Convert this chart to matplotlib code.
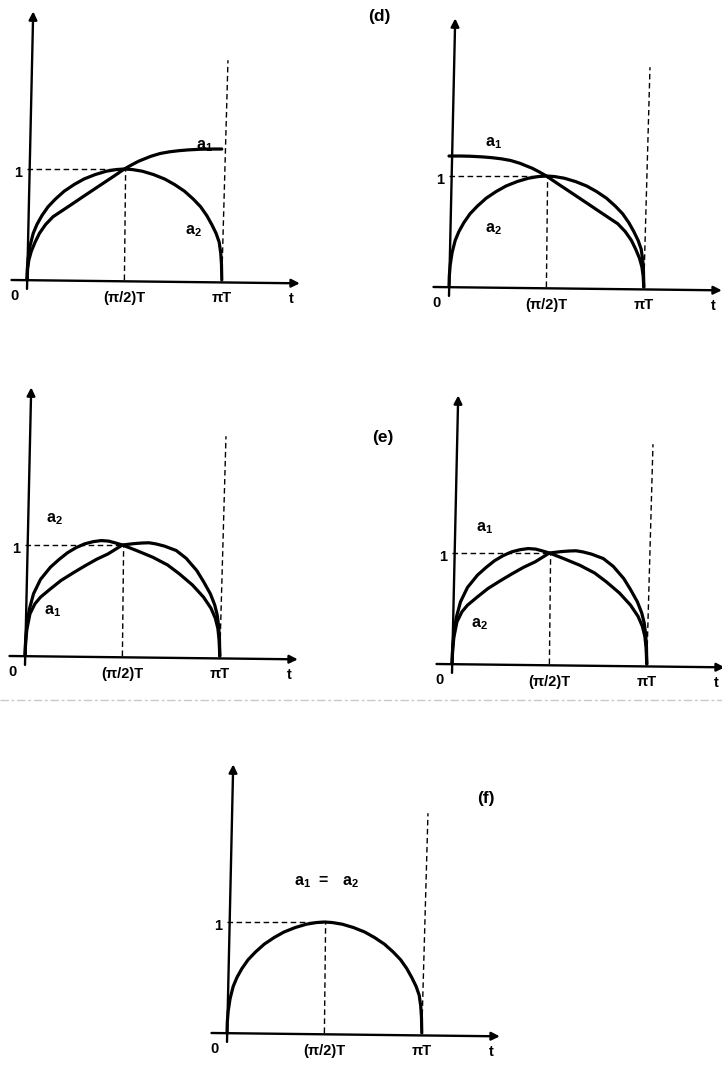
import numpy as np
import matplotlib.pyplot as plt
from matplotlib.lines import Line2D

plt.rcParams['font.family'] = ['Liberation Sans', 'DejaVu Sans']
plt.rcParams['font.weight'] = 'bold'
plt.rcParams['mathtext.fontset'] = 'custom'
plt.rcParams['mathtext.rm'] = 'Liberation Sans:bold'
plt.rcParams['mathtext.bf'] = 'Liberation Sans:bold'

PI = np.pi

# symmetric envelope (a2 in (d), a1 = a2 in (f)), t in units of T
hump_t = [0, 0.005, 0.02, 0.05, 0.1, 0.16, 0.24, 0.34, 0.46, 0.6, 0.76,
          0.92, 1.1, 1.28, 1.44, PI / 2, 1.7, 1.86, 2.04, 2.22, 2.38, 2.54,
          2.68, 2.8, 2.9, 2.98, 3.05, 3.1, 3.125, 3.137, PI]
hump_a = [0, 0.1, 0.2, 0.31, 0.42, 0.5, 0.58, 0.66, 0.73, 0.8, 0.86,
          0.91, 0.95, 0.98, 0.995, 1.0, 0.995, 0.98, 0.95, 0.91, 0.86, 0.8,
          0.73, 0.66, 0.58, 0.5, 0.42, 0.34, 0.24, 0.14, 0]

# rising amplitude (a1, first panel of (d)); second panel uses its mirror
rise_t = [0, 0.01, 0.03, 0.07, 0.13, 0.2, 0.3, 0.42, 0.56, 0.7, 0.91, 1.2,
          1.4, PI / 2, 1.68, 1.8, 2.0, 2.15, 2.3, 2.45, 2.6, 2.8, 2.95, PI]
rise_a = [0, 0.1, 0.18, 0.26, 0.34, 0.42, 0.5, 0.57, 0.622, 0.674, 0.753,
          0.861, 0.935, 1.0, 1.035, 1.07, 1.115, 1.14, 1.155, 1.165, 1.172,
          1.178, 1.18, 1.18]

# two crossing curves in (e)
early_t = [0, 0.01, 0.03, 0.07, 0.137, 0.25, 0.41, 0.55, 0.685, 0.82, 0.96,
           1.1, 1.23, 1.35, 1.45, PI / 2, 1.8, 2.06, 2.3, 2.49, 2.7, 2.88,
           3.0, 3.07, 3.11, 3.13, PI]
early_a = [0, 0.14, 0.28, 0.42, 0.56, 0.69, 0.80, 0.87, 0.93, 0.975, 1.01,
           1.03, 1.04, 1.035, 1.02, 1.0, 0.95, 0.89, 0.82, 0.74, 0.64, 0.53,
           0.43, 0.34, 0.25, 0.15, 0]
late_t = [0, 0.01, 0.03, 0.08, 0.16, 0.25, 0.4, 0.58, 0.78, 0.96, 1.15,
          1.34, PI / 2, 1.75, 1.89, 2.0, 2.11, 2.25, 2.44, 2.6, 2.77, 2.88,
          2.99, 3.06, 3.1, 3.125, 3.137, PI]
late_a = [0, 0.12, 0.24, 0.38, 0.47, 0.53, 0.6, 0.68, 0.75, 0.81, 0.87,
          0.92, 1.0, 1.012, 1.018, 1.02, 1.01, 0.99, 0.95, 0.88, 0.77, 0.67,
          0.56, 0.46, 0.37, 0.26, 0.15, 0]

tick_labels = ['0', '(\u03c0/2)T', '\u03c0T', 't', '1']

W, H = 722, 1068
SX, SY = 62.0, 111.0          # pixels per unit of t and of amplitude
X0, X1, Y0, Y1 = -0.4, 4.6, -0.4, 2.55

fig = plt.figure(figsize=(W / 100, H / 100), dpi=100)


def panel(ox, oy):
    # ox, oy: pixel position of the origin, measured from top-left
    left = ox + X0 * SX
    bottom = H - oy + Y0 * SY
    ax = fig.add_axes([left / W, bottom / H, (X1 - X0) * SX / W, (Y1 - Y0) * SY / H])
    ax.set_xlim(X0, X1)
    ax.set_ylim(Y0, Y1)
    ax.axis('off')

    arrow = dict(arrowstyle='-|>', color='black', lw=1.7, mutation_scale=12,
                 shrinkA=0, shrinkB=0)
    ax.annotate('', xy=(0.1, 2.42), xytext=(0, -0.08), arrowprops=arrow)
    ax.annotate('', xy=(4.4, -0.03), xytext=(-0.25, 0), arrowprops=arrow)

    dash = dict(color='black', lw=1.0, dashes=(4, 2.5))
    ax.plot([0, PI / 2], [1, 1], **dash)
    ax.plot([PI / 2, PI / 2 + 0.02], [0, 1], **dash)
    ax.plot([PI, PI + 0.1], [0, 1.98], **dash)

    fs = 10.5
    ax.text(-0.2, -0.14, tick_labels[0], ha='center', va='center', fontsize=fs)
    ax.text(PI / 2, -0.16, tick_labels[1], ha='center', va='center', fontsize=fs)
    ax.text(PI, -0.16, tick_labels[2], ha='center', va='center', fontsize=fs)
    ax.text(4.27, -0.17, tick_labels[3], ha='center', va='center', fontsize=fs)
    ax.text(-0.15, 1.0 - 0.04, tick_labels[4], ha='center', va='center', fontsize=fs)
    return ax


def curve(ax, t, a, mirror=False):
    t = np.asarray(t, dtype=float)
    if mirror:
        t = PI - t
    ax.plot(t, a, color='black', lw=2.3, solid_capstyle='round',
            solid_joinstyle='round')


def label(ax, x, y, s):
    ax.text(x, y, s, ha='center', va='center', fontsize=11.5, clip_on=False)


A1 = r'$\mathbf{a}_{\mathbf{1}}$'
A2 = r'$\mathbf{a}_{\mathbf{2}}$'

# (d) left
ax = panel(27, 280)
curve(ax, hump_t, hump_a)
curve(ax, rise_t, rise_a)
label(ax, 2.87, 1.21, A1)
label(ax, 2.68, 0.44, A2)

# (d) right
ax = panel(449, 287)
curve(ax, hump_t, hump_a)
curve(ax, rise_t, rise_a, mirror=True)
label(ax, 0.71, 1.3, A1)
label(ax, 0.71, 0.52, A2)

# (e) left
ax = panel(25, 656)
curve(ax, early_t, early_a)
curve(ax, late_t, late_a)
label(ax, 0.48, 1.23, A2)
label(ax, 0.45, 0.4, A1)

# (e) right
ax = panel(452, 664)
curve(ax, early_t, early_a)
curve(ax, late_t, late_a)
label(ax, 0.52, 1.22, A1)
label(ax, 0.44, 0.36, A2)

# (f)
ax = panel(227, 1033)
curve(ax, hump_t, hump_a)
label(ax, 1.61, 1.36, A1 + r'$\ \mathbf{=}\ \ $' + A2)

# panel tags
for s, x, y in [('(d)', 379, 16), ('(e)', 383, 437), ('(f)', 486, 798)]:
    fig.text(x / W, 1 - y / H, s, ha='center', va='center', fontsize=12.5)

# faint rule between (e) and (f)
fig.add_artist(Line2D([0, 1], [1 - 700 / H] * 2, transform=fig.transFigure,
                      color='#c8c8c8', lw=1.0, dashes=(6, 2, 2, 2)))

fig.savefig('out.png', dpi=100, facecolor='white')
